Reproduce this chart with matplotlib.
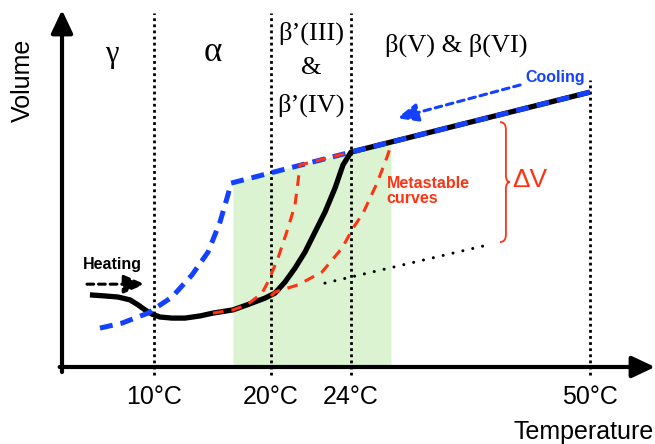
import numpy as np
import matplotlib
matplotlib.use("Agg")
import matplotlib.pyplot as plt
from matplotlib.path import Path
from matplotlib.patches import PathPatch

# ---------------- data (temperature in °C, volume in arbitrary units) -------------
tick_temps = [10, 20, 24, 50]
tick_labels = ["10°C", "20°C", "24°C", "50°C"]

# schematic (non-linear) temperature axis: anchor temperatures and their positions
scale_T = [-100, 2, 10, 20, 24, 50, 57, 200]
scale_pos = [-1111, 62, 154, 271, 351, 590, 655, 1983]

heating_T = [4.43, 5.74, 6.87, 7.91, 8.61, 9.22, 9.83, 10.51, 11.54, 12.65,
             13.93, 15.04, 16.75, 17.95, 19.49, 20.2, 20.7, 21.2, 21.7, 22.2,
             22.7, 23.2, 23.6, 24.0, 50.0]
heating_V = [20.2, 19.9, 19.6, 18.8, 17.4, 16.0, 14.8, 14.0, 13.7, 13.7,
             14.3, 15.1, 16.0, 17.4, 19.3, 20.7, 23.8, 27.7, 32.2, 37.8,
             43.4, 50.1, 56.6, 60.2, 77.0]

cooling_T = [5.30, 7.22, 9.48, 11.54, 13.25, 14.62, 15.64, 16.32, 16.58,
             24.0, 50.0]
cooling_V = [10.9, 12.3, 15.1, 19.6, 25.8, 32.2, 40.6, 48.2, 51.5,
             60.2, 77.0]

meta1_T = [15.04, 16.75, 17.95, 19.23, 19.74, 20.35, 20.85, 21.2, 21.35, 21.45,
           24.0]
meta1_V = [15.1, 16.0, 17.4, 20.7, 23.8, 30.5, 38.9, 45.4, 51.8, 56.6, 60.2]

meta2_T = [20.0, 20.2, 21.35, 22.55, 23.55, 24.22, 25.31, 26.83, 27.92, 28.24]
meta2_V = [19.9, 21.0, 23.0, 26.6, 33.3, 38.9, 43.1, 51.5, 58.8, 61.3]

dotted_T = [22.7, 38.9]
dotted_V = [23.5, 34.2]

green_T = [16.75, 24.0, 28.35]
green_V = [51.8, 60.2, 63.0]

vline_T = [10, 20, 24, 50]
vline_top = [99.2, 99.2, 99.2, 80.4]

brace_T = [40.2, 40.85, 41.3]
brace_V = [68.6, 51.8, 35.0]

phase_labels = ["γ", "α", "β’(III)", "&", "β’(IV)", "β(V) & β(VI)"]
phase_T = [6.35, 15.04, 22.0, 22.0, 22.0, 35.5]
phase_V = [87.5, 88.0, 93.6, 83.8, 73.4, 90.2]
phase_fontsize = [22, 25, 19, 19, 19, 19]

# ---------------------------------------------------------------------------------
BLUE = "#1440ff"
RED = "#ff3311"
GREEN = "#dcf3d2"


def fwd(t):
    return np.interp(t, scale_T, scale_pos)


def inv(p):
    return np.interp(p, scale_pos, scale_T)


fig = plt.figure(figsize=(6.55, 4.44), dpi=100)
ax = fig.add_axes([62 / 655, 1 - 367 / 444, 593 / 655, 357 / 444])
ax.set_xscale("function", functions=(fwd, inv))
ax.set_xlim(2, 57)
ax.set_ylim(0, 100)
for s in ax.spines.values():
    s.set_visible(False)
ax.set_yticks([])
ax.set_xticks(tick_temps)
ax.set_xticklabels(tick_labels, fontsize=18, family="Liberation Sans")
ax.xaxis.set_minor_locator(matplotlib.ticker.NullLocator())
ax.tick_params(axis="x", length=0, pad=13)

# green metastable zone
ax.fill_between(green_T, 0, green_V, color=GREEN, lw=0, zorder=1)

# vertical dotted lines
for t, top in zip(vline_T, vline_top):
    ax.plot([t, t], [-2.2, top], color="black", lw=2.0,
            linestyle=(0, (1, 1.2)), clip_on=False, zorder=2)

# sloped dotted line
ax.plot(dotted_T, dotted_V, color="black", lw=2.2, linestyle=(0, (0.01, 3.3)),
        dash_capstyle="round", zorder=3)

# heating (black)
ax.plot(heating_T, heating_V, color="black", lw=3.8, solid_capstyle="butt",
        solid_joinstyle="round", zorder=4)
# cooling (blue dashed)
ax.plot(cooling_T, cooling_V, color=BLUE, lw=3.6, linestyle=(0, (2.6, 1.6)),
        zorder=5)
# metastable curves (red dashed)
ax.plot(meta1_T, meta1_V, color=RED, lw=2.2, linestyle=(0, (3.5, 2.6)), zorder=6)
ax.plot(meta2_T, meta2_V, color=RED, lw=2.2, linestyle=(0, (3.5, 2.6)), zorder=6)

# axis arrows
arrow_style = "-|>,head_length=0.7,head_width=0.33"
ax.annotate("", xy=(1.0, 0), xytext=(-0.004, 0), xycoords="axes fraction",
            arrowprops=dict(arrowstyle=arrow_style, lw=3, color="black",
                            shrinkA=0, shrinkB=0, mutation_scale=20),
            annotation_clip=False)
ax.annotate("", xy=(0, 1.0), xytext=(0, -0.014), xycoords="axes fraction",
            arrowprops=dict(arrowstyle=arrow_style, lw=3, color="black",
                            shrinkA=0, shrinkB=0, mutation_scale=20),
            annotation_clip=False)

# heating / cooling arrows
ax.annotate("", xy=(9.2, 23.2), xytext=(4.17, 23.2),
            arrowprops=dict(arrowstyle="-|>,head_length=0.8,head_width=0.35",
                            lw=2.2, color="black", linestyle=(0, (2.2, 1.6)),
                            shrinkA=0, shrinkB=0, mutation_scale=16))
ax.annotate("", xy=(29.0, 69.7), xytext=(42.4, 79.0),
            arrowprops=dict(arrowstyle="-|>,head_length=0.8,head_width=0.35",
                            lw=2.2, color=BLUE, linestyle=(0, (2.2, 1.6)),
                            shrinkA=0, shrinkB=0, mutation_scale=16))

ax.text(6.35, 28.6, "Heating", fontsize=11.5, fontweight="bold", color="black",
        ha="center", va="center", family="Liberation Sans")
ax.text(46.2, 81.0, "Cooling", fontsize=11.5, fontweight="bold", color=BLUE,
        ha="center", va="center", family="Liberation Sans")
ax.text(27.9, 49.3, "Metastable\ncurves", fontsize=11.5, fontweight="bold",
        color=RED, ha="left", va="center", linespacing=1.05,
        family="Liberation Sans")
ax.text(43.5, 52.4, "ΔV", fontsize=19, color=RED, ha="center", va="center",
        family="Liberation Sans")

# brace
x0, xm, xt = brace_T
top, mid, bot = brace_V
r = 2.0
verts = [(x0, top), (xm, top), (xm, top - r),
         (xm, mid + r), (xm, mid), (xt, mid),
         (xm, mid), (xm, mid - r),
         (xm, bot + r), (xm, bot), (x0, bot)]
codes = [Path.MOVETO, Path.CURVE3, Path.CURVE3,
         Path.LINETO, Path.CURVE3, Path.CURVE3,
         Path.CURVE3, Path.CURVE3,
         Path.LINETO, Path.CURVE3, Path.CURVE3]
ax.add_patch(PathPatch(Path(verts, codes), fill=False, edgecolor=RED, lw=1.3,
                       zorder=6))

# phase labels
for lab, t, v, fs in zip(phase_labels, phase_T, phase_V, phase_fontsize):
    ax.text(t, v, lab, fontsize=fs, ha="center", va="center",
            family="Liberation Serif")

fig.text(0.998, 1 - 432 / 444, "Temperature", fontsize=18, ha="right",
         va="center", family="Liberation Sans")
fig.text(23 / 655, 1 - 80 / 444, "Volume", fontsize=18, rotation=90,
         ha="center", va="center", family="Liberation Sans")

fig.savefig("out.png", dpi=100)
